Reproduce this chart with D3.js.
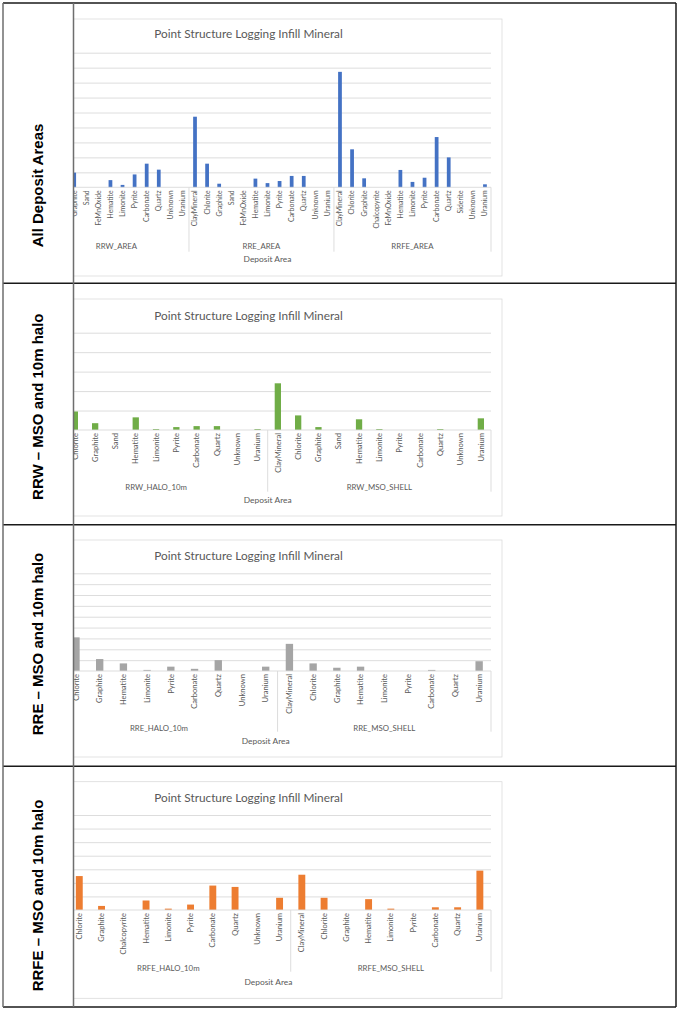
<!DOCTYPE html>
<html>
<head>
<meta charset="utf-8">
<script src="https://cdn.jsdelivr.net/npm/d3@7"></script>
<style>
  body { margin: 0; background: #fff; }
  svg { display: block; }
</style>
</head>
<body>
<svg id="page" width="681" height="1012"></svg>
<script>
// Row captions of the table
const rowLabels = ['All Deposit Areas', 'RRW \u2013 MSO and 10m halo', 'RRE \u2013 MSO and 10m halo', 'RRFE \u2013 MSO and 10m halo'];

// The leading category of each chart sits left of the cell edge in the source
// picture (cut off), so its value is unknown -> null, drawn nothing.

// All deposit areas
const allGroups = ['RRW_AREA', 'RRE_AREA', 'RRFE_AREA'];
const allCats = [
    ['ClayMineral', 'Chlorite', 'Graphite', 'Sand', 'FeMnOxide', 'Hematite', 'Limonite', 'Pyrite', 'Carbonate', 'Quartz', 'Unknown', 'Uranium'],
    ['ClayMineral', 'Chlorite', 'Graphite', 'Sand', 'FeMnOxide', 'Hematite', 'Limonite', 'Pyrite', 'Carbonate', 'Quartz', 'Unknown', 'Uranium'],
    ['ClayMineral', 'Chlorite', 'Graphite', 'Chalcopyrite', 'FeMnOxide', 'Hematite', 'Limonite', 'Pyrite', 'Carbonate', 'Quartz', 'Siderite', 'Unknown', 'Uranium']
];
const allVals = [
    [null, null, 49, 0, 0, 24, 8, 43, 79, 59, 0, 0],
    [236, 79, 12, 0, 0, 29, 14, 21, 38, 38, 0, 0],
    [386, 127, 30, 0, 0, 58, 18, 32, 168, 100, 0, 0, 10]
];

// RRW
const rrwGroups = ['RRW_HALO_10m', 'RRW_MSO_SHELL'];
const rrwCats = [
    ['ClayMineral', 'Chlorite', 'Graphite', 'Sand', 'Hematite', 'Limonite', 'Pyrite', 'Carbonate', 'Quartz', 'Unknown', 'Uranium'],
    ['ClayMineral', 'Chlorite', 'Graphite', 'Sand', 'Hematite', 'Limonite', 'Pyrite', 'Carbonate', 'Quartz', 'Unknown', 'Uranium']
];
const rrwVals = [
    [null, 19, 7, 0, 13, 1, 3, 4, 4, 0, 1],
    [48, 15, 3, 0, 11, 1, 0, 0, 1, 0, 12]
];

// RRE
const rreGroups = ['RRE_HALO_10m', 'RRE_MSO_SHELL'];
const rreCats = [
    ['ClayMineral', 'Chlorite', 'Graphite', 'Hematite', 'Limonite', 'Pyrite', 'Carbonate', 'Quartz', 'Unknown', 'Uranium'],
    ['ClayMineral', 'Chlorite', 'Graphite', 'Hematite', 'Limonite', 'Pyrite', 'Carbonate', 'Quartz', 'Uranium']
];
const rreVals = [
    [null, 31, 11, 7, 1, 4, 2, 10, 0, 4],
    [25, 7, 3, 4, 0, 0, 1, 0, 9]
];

// RRFE
const rrfeGroups = ['RRFE_HALO_10m', 'RRFE_MSO_SHELL'];
const rrfeCats = [
    ['ClayMineral', 'Chlorite', 'Graphite', 'Chalcopyrite', 'Hematite', 'Limonite', 'Pyrite', 'Carbonate', 'Quartz', 'Unknown', 'Uranium'],
    ['ClayMineral', 'Chlorite', 'Graphite', 'Hematite', 'Limonite', 'Pyrite', 'Carbonate', 'Quartz', 'Uranium']
];
const rrfeVals = [
    [null, 25, 3, 0, 7, 1, 4, 18, 17, 0, 9],
    [26, 9, 0, 8, 1, 0, 2, 2, 29]
];

const chartTitle = 'Point Structure Logging Infill Mineral';
const axisTitle = 'Deposit Area';

// table geometry
const tableLeft = 3, tableRight = 676, colX = 73.5;
const rowLines = [3, 283.3, 524.7, 766.3, 1007];

const charts = [
    { groups: allGroups, cats: allCats, vals: allVals, color: '#4472C4', yMax: 450, yStep: 50,
      top: 19, bottom: 276, titleY: 33, gridTop: 52.7, base: 187.3, left: 44, catFont: 6.9,
      groupY: 246, axisY: 259.3, divBottom: 251.7, labelY: 185.5 },
    { groups: rrwGroups, cats: rrwCats, vals: rrwVals, color: '#70AD47', yMax: 100, yStep: 20,
      top: 299, bottom: 516, titleY: 315, gridTop: 332.7, base: 430, left: 44.4, catFont: 7.6,
      groupY: 486.7, axisY: 500, divBottom: 491.7, labelY: 406.7 },
    { groups: rreGroups, cats: rreCats, vals: rreVals, color: '#A5A5A5', yMax: 90, yStep: 10,
      top: 540, bottom: 757, titleY: 555.7, gridTop: 573.3, base: 671, left: 40.4, catFont: 7.6,
      groupY: 728.3, axisY: 740.7, divBottom: 731.7, labelY: 644 },
    { groups: rrfeGroups, cats: rrfeCats, vals: rrfeVals, color: '#ED7D31', yMax: 70, yStep: 10,
      top: 781.7, bottom: 998.3, titleY: 797.3, gridTop: 815, base: 910, left: 45.9, catFont: 7.5,
      groupY: 968.3, axisY: 981.7, divBottom: 971.7, labelY: 895.5 }
];

const plotRight = 491;
const chartRight = 502;
const textColor = '#595959';
const lineColor = '#D9D9D9';
const chartFont = 'Lato, "Open Sans", sans-serif';

const svg = d3.select('#page');
const defs = svg.append('defs');

charts.forEach((c, ci) => {
    // flatten the grouped categories
    const rows = [];
    c.groups.forEach((g, gi) => {
        c.cats[gi].forEach((name, k) => {
            rows.push({ group: g, gi: gi, name: name, value: c.vals[gi][k], idx: rows.length });
        });
    });

    const cellTop = rowLines[ci], cellBottom = rowLines[ci + 1];
    defs.append('clipPath').attr('id', 'clip' + ci)
        .append('rect')
        .attr('x', colX + 0.5).attr('y', cellTop)
        .attr('width', tableRight - colX - 0.5).attr('height', cellBottom - cellTop);

    const g = svg.append('g').attr('clip-path', `url(#clip${ci})`);

    const x = d3.scaleBand()
        .domain(rows.map(d => d.idx))
        .range([c.left, plotRight]);
    const y = d3.scaleLinear()
        .domain([0, c.yMax])
        .range([c.base, c.gridTop]);

    // chart frame (its left side lies outside the cell)
    g.append('rect')
        .attr('x', -5).attr('y', c.top)
        .attr('width', chartRight + 5).attr('height', c.bottom - c.top)
        .attr('fill', '#fff').attr('stroke', lineColor).attr('stroke-width', 0.75);

    // title
    g.append('text')
        .attr('x', 248.5).attr('y', c.titleY)
        .attr('text-anchor', 'middle').attr('dominant-baseline', 'central')
        .attr('font-family', chartFont).attr('font-size', 11.8)
        .attr('fill', textColor)
        .text(chartTitle);

    // gridlines
    const grid = g.append('g')
        .attr('transform', `translate(${c.left},0)`)
        .call(d3.axisLeft(y)
            .tickValues(d3.range(c.yStep, c.yMax + c.yStep / 2, c.yStep))
            .tickSize(-(plotRight - c.left))
            .tickFormat(''));
    grid.select('.domain').remove();
    grid.selectAll('line').attr('stroke', lineColor).attr('stroke-width', 0.9);

    // bars
    const bw = x.bandwidth() * 0.31;
    g.append('g').selectAll('rect')
        .data(rows.filter(d => d.value > 0))
        .join('rect')
        .attr('x', d => x(d.idx) + (x.bandwidth() - bw) / 2)
        .attr('y', d => y(d.value))
        .attr('width', bw)
        .attr('height', d => y(0) - y(d.value))
        .attr('fill', c.color);

    // category axis line
    g.append('line')
        .attr('x1', c.left).attr('x2', plotRight)
        .attr('y1', y(0)).attr('y2', y(0))
        .attr('stroke', lineColor).attr('stroke-width', 0.9);

    // category labels, rotated
    g.append('g').selectAll('text')
        .data(rows)
        .join('text')
        .attr('transform', d => `translate(${x(d.idx) + x.bandwidth() / 2},${c.base + 3}) rotate(-90)`)
        .attr('dy', '0.35em')
        .attr('text-anchor', 'end')
        .attr('font-family', chartFont).attr('font-size', c.catFont)
        .attr('fill', textColor)
        .text(d => d.name);

    // group dividers
    const starts = c.groups.map((gr, gi) => x(rows.find(d => d.gi === gi).idx));
    starts.concat([plotRight]).forEach(px => {
        g.append('line')
            .attr('x1', px).attr('x2', px)
            .attr('y1', c.base).attr('y2', c.divBottom)
            .attr('stroke', lineColor).attr('stroke-width', 0.9);
    });

    // group labels
    c.groups.forEach((gr, gi) => {
        const x0 = starts[gi];
        const x1 = gi + 1 < starts.length ? starts[gi + 1] : plotRight;
        g.append('text')
            .attr('x', (x0 + x1) / 2).attr('y', c.groupY)
            .attr('text-anchor', 'middle').attr('dominant-baseline', 'central')
            .attr('font-family', chartFont).attr('font-size', 7.8)
            .attr('fill', textColor)
            .text(gr);
    });

    // axis title
    g.append('text')
        .attr('x', (c.left + plotRight) / 2).attr('y', c.axisY)
        .attr('text-anchor', 'middle').attr('dominant-baseline', 'central')
        .attr('font-family', chartFont).attr('font-size', 8.4)
        .attr('fill', textColor)
        .text(axisTitle);

    // row caption
    svg.append('text')
        .attr('transform', `translate(37,${c.labelY}) rotate(-90)`)
        .attr('text-anchor', 'middle').attr('dominant-baseline', 'central')
        .attr('font-family', '"Liberation Sans", Arial, sans-serif')
        .attr('font-weight', 'bold').attr('font-size', 15)
        .attr('fill', '#000')
        .text(rowLabels[ci]);
});

// table rules
const rules = svg.append('g');
rowLines.forEach(yy => {
    rules.append('line')
        .attr('x1', tableLeft).attr('x2', tableRight)
        .attr('y1', yy).attr('y2', yy)
        .attr('stroke', '#1a1a1a').attr('stroke-width', 1.4);
});
[tableLeft, colX, tableRight].forEach(xx => {
    rules.append('line')
        .attr('x1', xx).attr('x2', xx)
        .attr('y1', rowLines[0]).attr('y2', rowLines[rowLines.length - 1])
        .attr('stroke', xx === tableRight ? '#1a1a1a' : '#6e6e6e').attr('stroke-width', 1.5);
});
</script>
</body>
</html>
